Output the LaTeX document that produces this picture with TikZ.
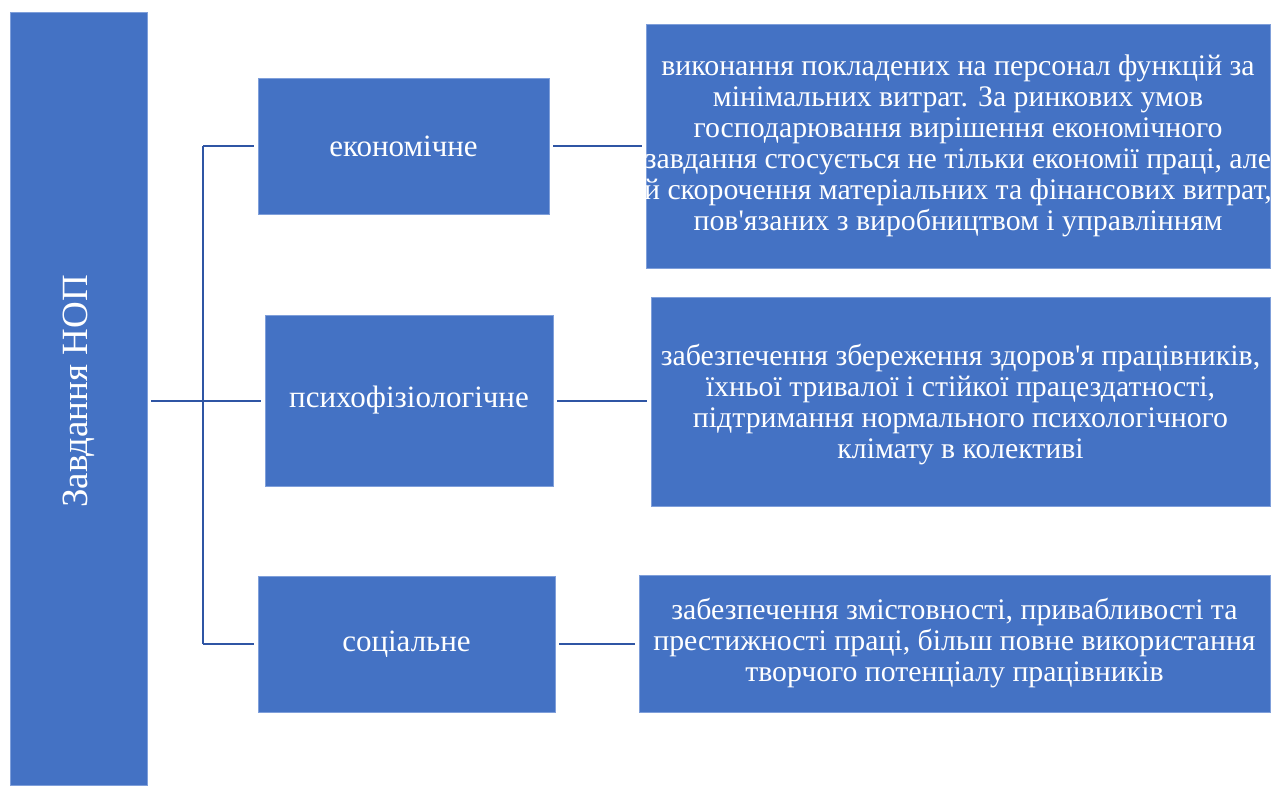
\documentclass[tikz,border=0pt]{standalone}
\usepackage{fontspec}
\setmainfont{Liberation Serif}[Ligatures=TeXOff]
\definecolor{boxfill}{HTML}{4472C4}
\definecolor{boxedge}{HTML}{7F9FDA}
\definecolor{linecol}{HTML}{2F55A4}
\begin{document}
\begin{tikzpicture}[x=1pt,y=-1pt,
  box/.style={draw=boxedge, line width=0.8pt, fill=boxfill, text=white, align=center, inner sep=0pt},
  txt/.style={text=white, align=center, inner sep=0pt},
  conn/.style={draw=linecol, line width=2pt},
  big/.style={font=\fontsize{31}{33}\selectfont},
  small/.style={font=\fontsize{29.8}{31}\selectfont}]
\useasboundingbox (0,0) rectangle (1272,787);
\node[box, minimum width=137pt, minimum height=773pt] (L) at (78.5,398.5) {};
\node[txt, rotate=90, font=\fontsize{37}{40}\selectfont] (Lt) at ([yshift=7pt]L.center) {Завдання НОП};
\node[box, big, minimum width=291pt, minimum height=136pt] (B1) at (403.5,146) {економічне};
\node[box, big, minimum width=288pt, minimum height=171pt] (B2) at (409,400.5) {психофізіологічне};
\node[box, big, minimum width=297pt, minimum height=136pt] (B3) at (406.5,644) {соціальне};
\node[box, minimum width=624pt, minimum height=244pt] (R1) at (958,146) {};
\node[txt, small] (R1t) at (R1.center) {виконання покладених на персонал функцій за\\мінімальних витрат. За ринкових умов\\господарювання вирішення економічного\\завдання стосується не тільки економії праці, але\\й скорочення матеріальних та фінансових витрат,\\пов'язаних з виробництвом і управлінням};
\node[box, minimum width=619pt, minimum height=209pt] (R2) at (960.5,401.5) {};
\node[txt, small] (R2t) at ([yshift=-3pt]R2.center) {забезпечення збереження здоров'я працівників,\\їхньої тривалої і стійкої працездатності,\\підтримання нормального психологічного\\клімату в колективі};
\node[box, minimum width=631pt, minimum height=137pt] (R3) at (954.5,643.5) {};
\node[txt, small] (R3t) at (R3.center) {забезпечення змістовності, привабливості та\\престижності праці, більш повне використання\\творчого потенціалу працівників};
\coordinate (t1) at (203,146);
\coordinate (t3) at (203,644);
\draw[conn] (t1) -- (t3);
\draw[conn, shorten >=4pt] (t1) -- (B1.west);
\draw[conn, shorten >=4pt] (t3) -- (B3.west);
\draw[conn, shorten <=4pt, shorten >=4pt] (L.east |- B2.west) -- (B2.west);
\draw[conn, shorten <=4pt, shorten >=4pt] (B1.east) -- (R1.west |- B1.east);
\draw[conn, shorten <=4pt, shorten >=4pt] (B2.east) -- (R2.west |- B2.east);
\draw[conn, shorten <=4pt, shorten >=4pt] (B3.east) -- (R3.west |- B3.east);
\end{tikzpicture}
\end{document}
